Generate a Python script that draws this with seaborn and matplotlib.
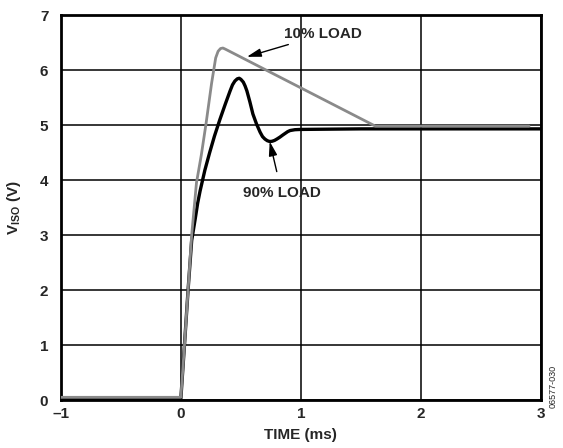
import numpy as np
import pandas as pd
import seaborn as sns
import matplotlib
matplotlib.use("Agg")
import matplotlib.pyplot as plt

# 10% load trace (gray)
t_light = [-1.0, 0.0, 0.03, 0.06, 0.09, 0.13, 0.17, 0.21, 0.256, 0.29, 0.31, 0.33, 0.35, 0.37, 1.62, 2.9]
v_light = [0.05, 0.05, 1.0, 2.0, 3.0, 3.95, 4.45, 5.03, 5.76, 6.22, 6.34, 6.39, 6.40, 6.38, 4.98, 4.98]

# 90% load trace (black)
t_heavy = [-1.0, 0.0, 0.03, 0.06, 0.09, 0.12, 0.14, 0.16, 0.20, 0.24, 0.28, 0.325, 0.37,
           0.41, 0.43, 0.45, 0.47, 0.486, 0.50, 0.52, 0.535, 0.55, 0.575, 0.60, 0.63,
           0.66, 0.68, 0.70, 0.72, 0.74, 0.76, 0.78, 0.80, 0.825, 0.85, 0.87, 0.89,
           0.91, 0.95, 1.0, 1.5, 3.0]
v_heavy = [0.03, 0.03, 1.0, 2.0, 2.9, 3.3, 3.58, 3.8, 4.18, 4.5, 4.8, 5.1, 5.38,
           5.62, 5.73, 5.8, 5.84, 5.85, 5.83, 5.78, 5.71, 5.62, 5.42, 5.2, 5.02,
           4.87, 4.79, 4.745, 4.715, 4.70, 4.705, 4.72, 4.745, 4.78, 4.82, 4.85, 4.88,
           4.90, 4.915, 4.92, 4.93, 4.93]

x_ticks = [-1, 0, 1, 2, 3]
x_labels = ["\u20131", "0", "1", "2", "3"]
y_ticks = [0, 1, 2, 3, 4, 5, 6, 7]


def main():
    sns.set_style("white")
    plt.rcParams["font.family"] = ["Liberation Sans", "DejaVu Sans"]
    plt.rcParams["font.weight"] = "bold"
    plt.rcParams["mathtext.fontset"] = "custom"
    plt.rcParams["mathtext.rm"] = "Liberation Sans:bold"
    plt.rcParams["mathtext.it"] = "Liberation Sans:bold"
    plt.rcParams["mathtext.bf"] = "Liberation Sans:bold"

    light = pd.DataFrame({"t": t_light, "v": v_light})
    heavy = pd.DataFrame({"t": t_heavy, "v": v_heavy})

    fig = plt.figure(figsize=(5.63, 4.48), dpi=100)
    ax = fig.add_axes([0.108, 0.107, 0.853, 0.8595])

    sns.lineplot(data=heavy, x="t", y="v", ax=ax, color="black", lw=2.4, zorder=3)
    sns.lineplot(data=light, x="t", y="v", ax=ax, color="#8a8a8a", lw=2.0, zorder=4)

    ax.set_xlim(-1, 3)
    ax.set_ylim(0, 7)
    ax.set_xticks(x_ticks)
    ax.set_xticklabels(x_labels)
    ax.set_yticks(y_ticks)
    ax.grid(True, color="black", lw=1.1)
    ax.set_axisbelow(True)
    ax.tick_params(axis="both", length=0, labelsize=11)
    ax.tick_params(axis="x", pad=5)
    ax.tick_params(axis="y", pad=9)
    for sp in ax.spines.values():
        sp.set_visible(True)
        sp.set_linewidth(2.0)
        sp.set_color("black")

    ax.set_xlabel("TIME (ms)", fontsize=11, fontweight="bold", labelpad=5)
    ax.set_ylabel(r"V$_{ISO}$ (V)", fontsize=11, fontweight="bold", labelpad=12)

    head = "-|>,head_length=0.85,head_width=0.25"
    ax.annotate("10% LOAD", xy=(0.55, 6.24), xytext=(0.86, 6.65),
                fontsize=11, fontweight="bold", va="center", ha="left",
                arrowprops=dict(arrowstyle=head, color="black", lw=1.0,
                                mutation_scale=10, shrinkA=0, shrinkB=0))
    ax.annotate("90% LOAD", xy=(0.74, 4.70), xytext=(0.84, 3.77),
                fontsize=11, fontweight="bold", va="center", ha="center",
                arrowprops=dict(arrowstyle=head, color="black", lw=1.0,
                                mutation_scale=10, shrinkA=8, shrinkB=0))

    fig.text(0.982, 0.138, "06577-030", rotation=90, fontsize=6.5,
             fontweight="normal", ha="center", va="center")

    fig.savefig("out.png", dpi=100)
    plt.close(fig)


if __name__ == "__main__":
    main()
